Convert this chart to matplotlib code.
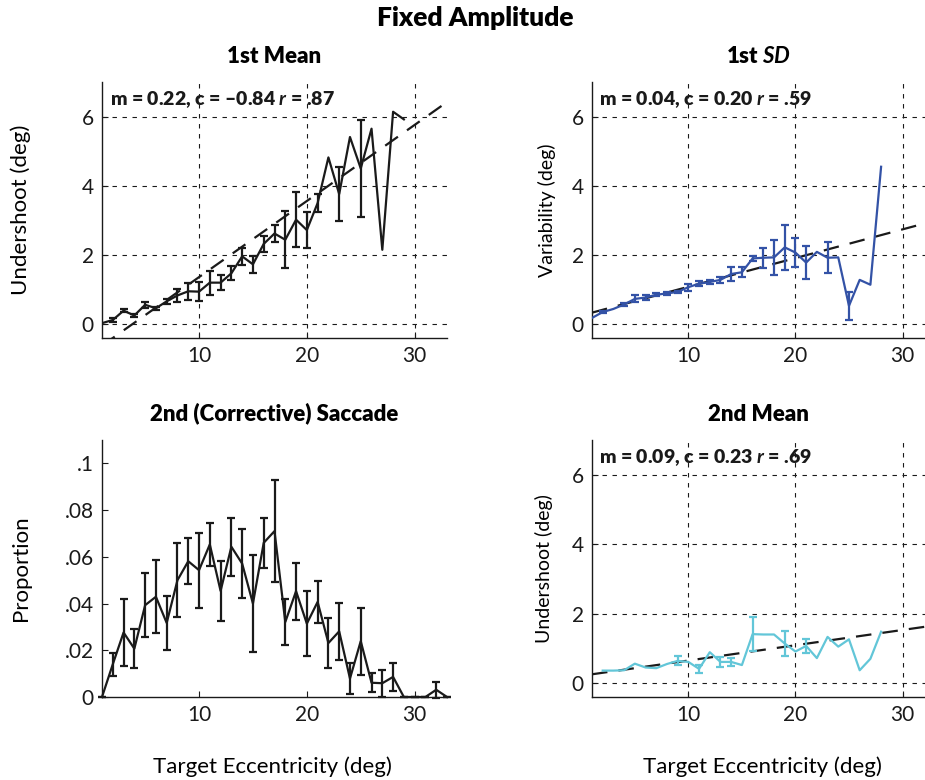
"""Fixed Amplitude: undershoot, variability and corrective saccade vs eccentricity."""

import matplotlib
matplotlib.use("Agg")
import matplotlib.pyplot as plt
import numpy as np

FAMILY = "Lato"
plt.rcParams["font.family"] = [FAMILY, "DejaVu Sans"]
plt.rcParams["mathtext.fontset"] = "custom"
plt.rcParams["mathtext.rm"] = FAMILY + ":bold"
plt.rcParams["mathtext.it"] = FAMILY + ":italic:bold"
plt.rcParams["mathtext.bf"] = FAMILY + ":bold"

# ---- data ----
ecc_mean1 = np.arange(1, 30)
mean1 = [0.03, 0.12, 0.39, 0.25, 0.56, 0.46, 0.66, 0.83, 0.95, 0.94,
         1.20, 1.20, 1.47, 1.96, 1.73, 2.32, 2.62, 2.44, 3.02, 2.72,
         3.50, 4.82, 3.76, 5.41, 4.50, 5.65, 2.15, 6.14, 5.92]
mean1_err = [0.00, 0.05, 0.05, 0.05, 0.09, 0.05, 0.08, 0.20, 0.24, 0.27,
             0.35, 0.22, 0.20, 0.25, 0.24, 0.22, 0.25, 0.83, 0.80, 0.53,
             0.26, 0.00, 0.77, 0.00, 1.40, 0.00, 0.00, 0.00, 0.00]

ecc_sd1 = np.arange(1, 29)
sd1 = [0.18, 0.35, 0.44, 0.57, 0.73, 0.77, 0.85, 0.89, 0.93, 1.07,
       1.17, 1.22, 1.28, 1.45, 1.50, 1.90, 1.92, 1.93, 2.22, 2.07,
       1.78, 2.09, 1.92, 1.93, 0.53, 1.28, 1.14, 4.55]
sd1_err = [0.00, 0.04, 0.00, 0.05, 0.10, 0.06, 0.04, 0.05, 0.04, 0.10,
           0.07, 0.07, 0.08, 0.20, 0.15, 0.08, 0.29, 0.50, 0.65, 0.43,
           0.48, 0.00, 0.45, 0.00, 0.40, 0.00, 0.00, 0.00]

ecc_prop2 = np.arange(1, 34)
prop2 = [0.0, 0.0140, 0.0276, 0.0207, 0.0393, 0.0429, 0.0317, 0.0500, 0.0581, 0.0543,
         0.0653, 0.0454, 0.0643, 0.0571, 0.0400, 0.0660, 0.0710, 0.0321, 0.0453, 0.0314,
         0.0407, 0.0231, 0.0281, 0.0079, 0.0239, 0.0061, 0.0059, 0.0086, 0.0, 0.0,
         0.0, 0.0031, 0.0]
prop2_err = [0.0, 0.0049, 0.0144, 0.0084, 0.0136, 0.0156, 0.0116, 0.0158, 0.0099, 0.0160,
             0.0093, 0.0127, 0.0125, 0.0147, 0.0207, 0.0107, 0.0219, 0.0099, 0.0122, 0.0139,
             0.0091, 0.0108, 0.0123, 0.0066, 0.0144, 0.0041, 0.0057, 0.0061, 0.0, 0.0,
             0.0, 0.0034, 0.0]

ecc_mean2 = np.arange(2, 29)
mean2 = [0.36, 0.36, 0.37, 0.56, 0.45, 0.43, 0.55, 0.64, 0.61, 0.41,
         0.89, 0.61, 0.61, 0.52, 1.41, 1.40, 1.40, 1.14, 0.91, 1.07,
         0.72, 1.33, 1.05, 1.26, 0.37, 0.70, 1.48]
mean2_err = [0.0, 0.0, 0.0, 0.0, 0.0, 0.0, 0.0, 0.13, 0.0, 0.12,
             0.0, 0.15, 0.12, 0.0, 0.48, 0.0, 0.0, 0.36, 0.0, 0.21,
             0.0, 0.0, 0.0, 0.0, 0.0, 0.0, 0.0]

# fitted lines as drawn (slope, intercept) and the printed labels
fit_mean1 = (0.22, -0.84)
fit_sd1 = (0.083, 0.25)
fit_mean2 = (0.044, 0.21)
label_mean1 = "m = 0.22, c = \u20130.84 $r$ = .87"
label_sd1 = "m = 0.04, c = 0.20 $r$ = .59"
label_mean2 = "m = 0.09, c = 0.23 $r$ = .69"

BLACK = "#1a1a1a"
BLUE = "#3352a6"
CYAN = "#62c6d8"

W, H = 925, 780
fig = plt.figure(figsize=(W / 100, H / 100), dpi=100)


def box(left, top, right, bottom):
    return [left / W, 1 - bottom / H, (right - left) / W, (bottom - top) / H]


ax_m1 = fig.add_axes(box(102, 82, 447, 338))
ax_sd = fig.add_axes(box(592, 82, 925, 338))
ax_p2 = fig.add_axes(box(102, 440, 447, 697))
ax_m2 = fig.add_axes(box(592, 440, 925, 697))


def style(ax, xmax):
    ax.set_xlim(1, xmax)
    ax.set_xticks([10, 20, 30])
    for s in ("top", "right"):
        ax.spines[s].set_visible(False)
    for s in ("left", "bottom"):
        ax.spines[s].set_linewidth(1.0)
        ax.spines[s].set_color(BLACK)
    ax.tick_params(direction="in", length=4, width=0.8, labelsize=15,
                   colors=BLACK, pad=6)


def deg_panel(ax, xmax, x, y, err, color, fit, label):
    style(ax, xmax)
    ax.set_ylim(-0.4, 7)
    ax.set_yticks([0, 2, 4, 6])
    ax.grid(True, color=BLACK, linestyle=(0, (4, 5)), linewidth=0.8)
    ax.set_axisbelow(True)
    xs = np.array([1, xmax])
    ax.plot(xs, fit[0] * xs + fit[1], color=BLACK, linewidth=1.6,
            dashes=(7, 5), zorder=2)
    x = np.asarray(x)
    y = np.asarray(y)
    err = np.asarray(err)
    ax.plot(x, y, color=color, linewidth=1.6, zorder=3)
    m = err > 0
    ax.errorbar(x[m], y[m], yerr=err[m], fmt="none", ecolor=color,
                elinewidth=1.6, capsize=3, capthick=1.6, zorder=3)
    ax.text(0.022, 0.93, label, transform=ax.transAxes, fontsize=14,
            fontweight="heavy", va="center", ha="left", color=BLACK, zorder=4)


deg_panel(ax_m1, 33, ecc_mean1, mean1, mean1_err, BLACK, fit_mean1, label_mean1)
deg_panel(ax_sd, 32.1, ecc_sd1, sd1, sd1_err, BLUE, fit_sd1, label_sd1)
deg_panel(ax_m2, 32.1, ecc_mean2, mean2, mean2_err, CYAN, fit_mean2, label_mean2)

# proportion of 2nd (corrective) saccades
style(ax_p2, 33)
ax_p2.set_ylim(0, 0.11)
ax_p2.set_yticks([0, 0.02, 0.04, 0.06, 0.08, 0.1])
ax_p2.set_yticklabels(["0", ".02", ".04", ".06", ".08", ".1"])
ax_p2.errorbar(ecc_prop2, prop2, yerr=prop2_err, color=BLACK, linewidth=1.6,
               elinewidth=1.6, capsize=3, capthick=1.6, clip_on=False)

# titles and labels
fig.text(475 / W, 1 - 18 / H, "Fixed Amplitude", ha="center", va="center",
         fontsize=19, fontweight="heavy")
for ax, title in ((ax_m1, "1st Mean"), (ax_sd, "1st $SD$"),
                  (ax_p2, "2nd (Corrective) Saccade"), (ax_m2, "2nd Mean")):
    ax.set_title(title, fontsize=16, fontweight="heavy", pad=14)

ax_m1.set_ylabel("Undershoot (deg)", fontsize=16)
ax_m1.yaxis.set_label_coords(-0.206, 0.5)
ax_p2.set_ylabel("Proportion", fontsize=16)
ax_p2.yaxis.set_label_coords(-0.206, 0.5)
ax_sd.set_ylabel("Variability (deg)", fontsize=14)
ax_sd.yaxis.set_label_coords(-0.108, 0.5)
ax_m2.set_ylabel("Undershoot (deg)", fontsize=14)
ax_m2.yaxis.set_label_coords(-0.117, 0.5)

fig.text(272 / W, 1 - 767 / H, "Target Eccentricity (deg)", ha="center",
         va="center", fontsize=16)
fig.text(762 / W, 1 - 767 / H, "Target Eccentricity (deg)", ha="center",
         va="center", fontsize=16)

fig.savefig("out.png", dpi=100)
